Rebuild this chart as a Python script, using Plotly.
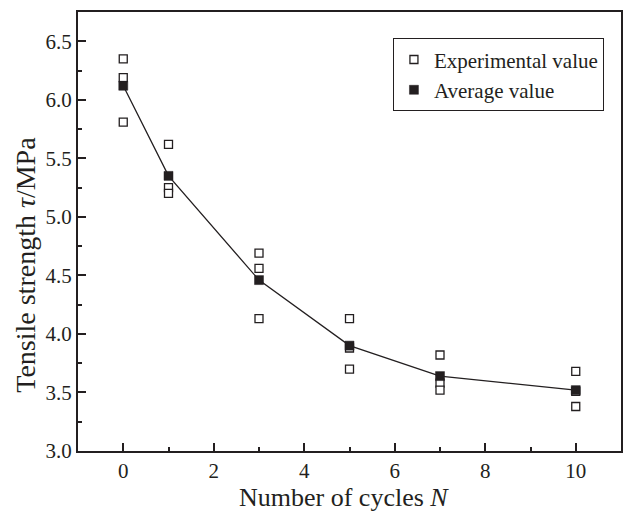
import plotly.graph_objects as go

# Data
cycles = [0, 1, 3, 5, 7, 10]
exp_n = [0, 0, 0, 1, 1, 1, 3, 3, 3, 5, 5, 5, 7, 7, 7, 10, 10, 10]
exp_tau = [6.35, 6.19, 5.81, 5.62, 5.25, 5.20, 4.69, 4.56, 4.13,
           4.13, 3.88, 3.70, 3.82, 3.58, 3.52, 3.68, 3.51, 3.38]
avg_tau = [6.12, 5.35, 4.46, 3.90, 3.64, 3.52]

x_ticks = [0, 2, 4, 6, 8, 10]
y_ticks = [3.0, 3.5, 4.0, 4.5, 5.0, 5.5, 6.0, 6.5]

DARK = "#231f20"
FONT = "Liberation Serif"

fig = go.Figure()
fig.add_trace(go.Scatter(
    x=exp_n, y=exp_tau, mode="markers", name="Experimental value",
    marker=dict(symbol="square", size=8, color="white",
                line=dict(color=DARK, width=1.3)),
))
fig.add_trace(go.Scatter(
    x=cycles, y=avg_tau, mode="lines", showlegend=False,
    line=dict(color=DARK, width=1.3),
))
fig.add_trace(go.Scatter(
    x=cycles, y=avg_tau, mode="markers", name="Average value",
    marker=dict(symbol="square", size=9, color=DARK,
                line=dict(color=DARK, width=0.5)),
))

tickfont = dict(family=FONT, size=21, color=DARK)

fig.update_xaxes(
    range=[-1, 11], tickmode="array", tickvals=x_ticks,
    showgrid=False, zeroline=False, showline=True, linewidth=2,
    linecolor=DARK, mirror=True, ticks="inside", ticklen=8, tickwidth=2,
    tickcolor=DARK, tickfont=tickfont,
    minor=dict(dtick=1, tick0=0, ticks="inside", ticklen=4, tickwidth=2, tickcolor=DARK, showgrid=False),
)
fig.update_yaxes(
    range=[3.0, 6.75], tickmode="array", tickvals=y_ticks, tickformat=".1f",
    showgrid=False, zeroline=False, showline=True, linewidth=2,
    linecolor=DARK, mirror=True, ticks="inside", ticklen=8, tickwidth=2,
    tickcolor=DARK, tickfont=tickfont,
    minor=dict(dtick=0.25, tick0=3.0, ticks="inside", ticklen=4, tickwidth=2, tickcolor=DARK, showgrid=False),
)

fig.add_annotation(
    text="Tensile strength <i>τ</i>/MPa", textangle=-90,
    xref="paper", yref="paper", x=-0.097, y=0.425,
    xanchor="center", yanchor="middle", showarrow=False,
    font=dict(family=FONT, size=28, color=DARK),
)
fig.add_annotation(
    text="Number of cycles <i>N</i>",
    xref="paper", yref="paper", x=0.49, y=-0.106,
    xanchor="center", yanchor="middle", showarrow=False,
    font=dict(family=FONT, size=26, color=DARK),
)

fig.update_layout(
    width=624, height=511,
    margin=dict(l=78, r=1, t=12, b=60),
    paper_bgcolor="white", plot_bgcolor="white",
    font=dict(family=FONT, size=21, color=DARK),
    showlegend=True,
    legend=dict(
        x=0.58, y=0.94, xanchor="left", yanchor="top",
        bgcolor="white", bordercolor=DARK, borderwidth=1,
        font=dict(family=FONT, size=21, color=DARK),
        itemwidth=30, tracegroupgap=0,
    ),
)

fig.write_html("out.html")
